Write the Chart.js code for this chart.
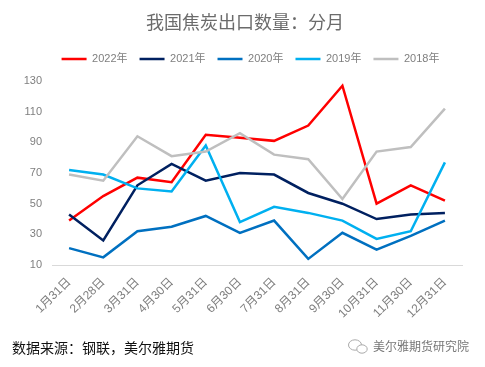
<!DOCTYPE html>
<html>
<head>
<meta charset="utf-8">
<style>
  html, body { margin: 0; padding: 0; background: #fff; overflow: hidden; }
  #wrap { position: relative; width: 485px; height: 367px; }
  #source { position: absolute; left: 12px; top: 337px; font: 14px "Noto Sans CJK SC", sans-serif; line-height: 20px; color: #111; white-space: nowrap; }
  #mark { position: absolute; left: 373px; top: 337px; font: 12px "Noto Sans CJK SC", sans-serif; line-height: 18px; color: #777; white-space: nowrap; }
  #icon { position: absolute; left: 347px; top: 338px; }
</style>
</head>
<body>
<div id="wrap">
  <canvas id="chart" width="485" height="367"></canvas>
  <div id="source">数据来源：钢联，美尔雅期货</div>
  <svg id="icon" width="22" height="17" viewBox="0 0 22 17" fill="none" stroke="#aaa" stroke-width="1">
    <ellipse cx="8" cy="7" rx="6.5" ry="5.2"></ellipse>
    <ellipse cx="15" cy="11" rx="5.2" ry="4.2" fill="#fff"></ellipse>
  </svg>
  <div id="mark">美尔雅期货研究院</div>
</div>
<script src="https://cdn.jsdelivr.net/npm/chart.js@4"></script>
<script>
var categories = ["1月31日", "2月28日", "3月31日", "4月30日", "5月31日", "6月30日", "7月31日", "8月31日", "9月30日", "10月31日", "11月30日", "12月31日"];
var y2022 = [39, 55, 67, 64, 95, 93, 91, 101, 127, 50, 62, 52];
var y2021 = [43, 26, 62, 76, 65, 70, 69, 57, 50, 40, 43, 44];
var y2020 = [21, 15, 32, 35, 42, 31, 39, 14, 31, 20, 29, 39];
var y2019 = [72, 69, 60, 58, 88, 38, 48, 44, 39, 27, 32, 77];
var y2018 = [69, 65, 94, 81, 84, 96, 82, 79, 53, 84, 87, 112];
var yTicks = [10, 30, 50, 70, 90, 110, 130];

var cjk = '"Liberation Sans", "Noto Sans CJK SC", sans-serif';

function line(label, data, color, order) {
  return {
    label: label,
    data: data,
    borderColor: color,
    backgroundColor: color,
    borderWidth: 2.5,
    borderJoinStyle: "miter",
    pointRadius: 0,
    tension: 0,
    order: order
  };
}

// legend box tall enough that the plot starts at y=81, title and legend nudged right
var headerFix = {
  id: "headerFix",
  beforeInit: function(chart) {
    var fit = chart.legend.fit;
    chart.legend.fit = function() {
      fit.call(this);
      this.height = 39.5;
    };
  },
  afterLayout: function(chart) {
    chart.titleBlock.left += 2.5;
    chart.titleBlock.right += 2.5;
    chart.legend.left += 8;
    chart.legend.right += 8;
  }
};

var ctx = document.getElementById("chart").getContext("2d");
var chart = new Chart(ctx, {
  type: "line",
  plugins: [headerFix],
  data: {
    labels: categories,
    datasets: [
      line("2022年", y2022, "#FF0000", 5),
      line("2021年", y2021, "#002060", 4),
      line("2020年", y2020, "#0070C0", 3),
      line("2019年", y2019, "#00B0F0", 2),
      line("2018年", y2018, "#BFBFBF", 1)
    ]
  },
  options: {
    responsive: false,
    animation: false,
    layout: { padding: { top: 13, right: 23, left: 23, bottom: 0 } },
    plugins: {
      title: {
        display: true,
        text: "我国焦炭出口数量：分月",
        color: "#6B6B6B",
        font: { family: cjk, size: 18, weight: "normal" },
        padding: { top: 0, bottom: 7 }
      },
      legend: {
        position: "top",
        labels: {
          boxWidth: 25,
          boxHeight: 0,
          color: "#7F7F7F",
          font: { family: cjk, size: 11 },
          padding: 12,
          sort: function(a, b) { return a.datasetIndex - b.datasetIndex; }
        }
      },
      tooltip: { enabled: false }
    },
    scales: {
      x: {
        offset: true,
        grid: { display: false },
        border: { color: "#D9D9D9" },
        ticks: { color: "#7F7F7F", font: { family: cjk, size: 12 }, minRotation: 45, maxRotation: 45, autoSkip: false, padding: 2 },
        afterFit: function(scale) { scale.height = 102; }
      },
      y: {
        min: 10,
        max: 130,
        afterBuildTicks: function(scale) {
          scale.ticks = yTicks.map(function(v) { return { value: v }; });
        },
        grid: { display: false },
        border: { display: false },
        ticks: { color: "#7F7F7F", font: { family: cjk, size: 11 }, padding: 2 },
        afterFit: function(scale) { scale.width = 29; }
      }
    }
  }
});
</script>
</body>
</html>
